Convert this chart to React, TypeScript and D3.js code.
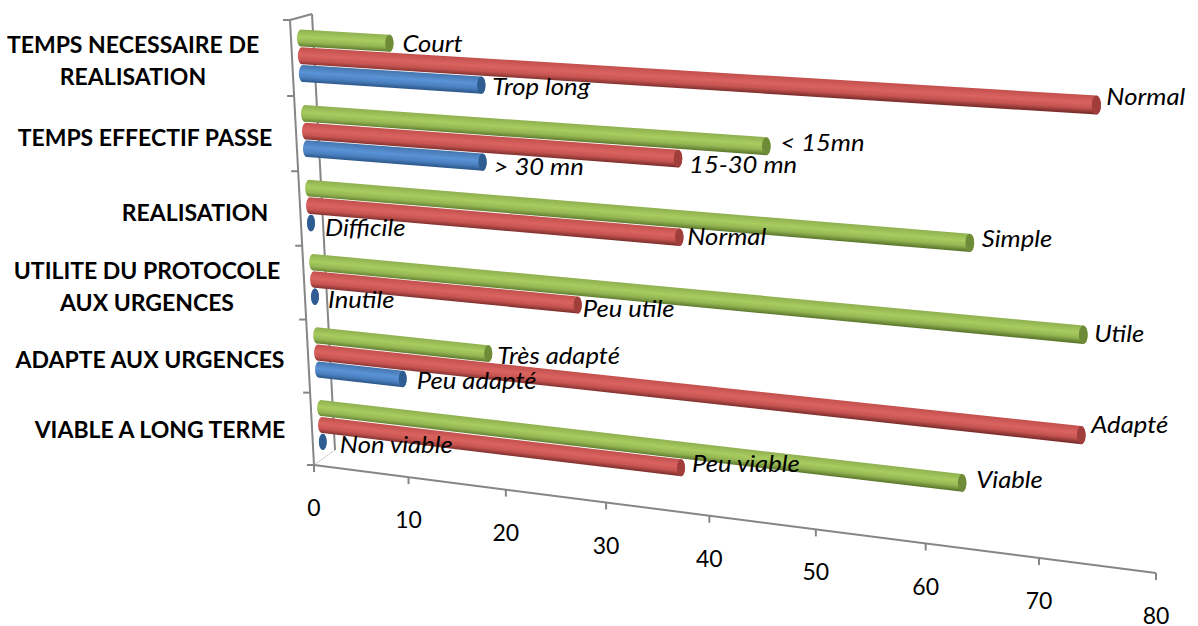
import React from 'react';
import * as d3 from 'd3';

type Pt = [number, number];

const categoryLines = [
  ['TEMPS NECESSAIRE DE', 'REALISATION'],
  ['TEMPS EFFECTIF PASSE'],
  ['REALISATION'],
  ['UTILITE DU PROTOCOLE', 'AUX URGENCES'],
  ['ADAPTE AUX URGENCES'],
  ['VIABLE A LONG TERME'],
];

const greenValues = [9.2, 45.6, 63.75, 73.5, 17.9, 62.85];
const redValues = [74.65, 37.3, 37.2, 27.1, 73.3, 36.7];
const blueValues = [18.35, 18.15, 0, 0, 8.9, 0];

const greenLabels = ['Court', '< 15mn', 'Simple', 'Utile', 'Très adapté', 'Viable'];
const redLabels = ['Normal', '15-30 mn', 'Normal', 'Peu utile', 'Adapté', 'Peu viable'];
const blueLabels = ['Trop long', '> 30 mn', 'Difficile', 'Inutile', 'Peu adapté', 'Non viable'];

const valueTicks = [0, 10, 20, 30, 40, 50, 60, 70, 80];

// layout: the plane the bars lie in, and the front plane of the axes
const barPlane: Pt[] = [[301, 38], [1161, 89], [1160, 506], [321, 408]];
const axisPlane: Pt[] = [[290, 20], [1157, 72], [1156, 573], [314, 465]];
const backWall: Pt[] = [[312, 14], [335, 450]];

const seriesStep = 0.235;
const halfBar = 0.112;

const greenNudge: Pt[] = [[13, 1], [14, -3], [12, -4], [11, -1], [9, 2], [14, -3]];
const redNudge: Pt[] = [[10, -8], [11, 6], [8, 0], [5, 4], [10, -10], [11, -4]];
const blueNudge: Pt[] = [[11, 2], [11, 5], [14, 5], [13, 3], [14, 2], [17, 3]];

const categoryCentres = [133, 145, 195, 147, 150, 160];
const categoryBaselines = [45, 138, 213, 271, 360, 430];

const series = [
  { id: 'blue', offset: 2, values: blueValues, labels: blueLabels, nudge: blueNudge, cap: '#2f5d91',
    stops: ['#4475ae', '#5a93d6', '#4a80c0', '#2b5587'] },
  { id: 'red', offset: 1, values: redValues, labels: redLabels, nudge: redNudge, cap: '#a03e3c',
    stops: ['#c2504d', '#da6360', '#c65451', '#7e2f2d'] },
  { id: 'green', offset: 0, values: greenValues, labels: greenLabels, nudge: greenNudge, cap: '#6e8c38',
    stops: ['#8fb04f', '#a8cc60', '#94b652', '#5e7a2f'] },
];

// unit square -> quad
function planeProjection([a, b, d, c]: Pt[]) {
  const sx = a[0] - b[0] + d[0] - c[0];
  const sy = a[1] - b[1] + d[1] - c[1];
  const dx1 = b[0] - d[0], dx2 = c[0] - d[0];
  const dy1 = b[1] - d[1], dy2 = c[1] - d[1];
  const den = dx1 * dy2 - dx2 * dy1;
  const g = (sx * dy2 - dx2 * sy) / den;
  const h = (dx1 * sy - sx * dy1) / den;
  return (u: number, w: number): Pt => {
    const z = 1 + g * u + h * w;
    return [
      (a[0] + (b[0] - a[0] + g * b[0]) * u + (c[0] - a[0] + h * c[0]) * w) / z,
      (a[1] + (b[1] - a[1] + g * b[1]) * u + (c[1] - a[1] + h * c[1]) * w) / z,
    ];
  };
}

const projectBar = planeProjection(barPlane);
const projectAxis = planeProjection(axisPlane);
const uScale = d3.scaleLinear().domain([0, 80]).range([0, 1]);
const wScale = d3.scaleLinear().domain([0, 5]).range([0, 1]);
const axisWScale = d3.scaleLinear().domain([0, 6]).range([0, 1]);

const GREY = '#868686';
const FONT = 'Lato, Carlito, sans-serif';

const App: React.FC = () => {
  const bars = categoryLines.flatMap((_, i) =>
    series.map(s => {
      const w = wScale(i + s.offset * seriesStep);
      const dw = wScale(halfBar);
      const u = uScale(s.values[i]);
      const st = projectBar(0, w - dw), sb = projectBar(0, w + dw);
      const et = projectBar(u, w - dw), eb = projectBar(u, w + dw);
      const end = projectBar(u, w);
      const ry = (eb[1] - et[1]) / 2;
      const rx = ry * 0.48;
      const srY = (sb[1] - st[1]) / 2;
      const srX = srY * 0.48;
      const midT = projectBar(u / 2, w - dw), midB = projectBar(u / 2, w + dw);
      // keep the shading parallel to the bar
      const angle = Math.atan2(et[1] - st[1], et[0] - st[0]);
      const thick = (midB[1] - midT[1]) * Math.cos(angle);
      const grad = {
        x1: midT[0], y1: midT[1],
        x2: midT[0] - thick * Math.sin(angle), y2: midT[1] + thick * Math.cos(angle),
      };
      const d = `M${st[0]},${st[1]}L${et[0]},${et[1]}A${rx},${ry} 0 0 1 ${eb[0]},${eb[1]}L${sb[0]},${sb[1]}A${srX},${srY} 0 0 1 ${st[0]},${st[1]}Z`;
      return { key: `${s.id}-${i}`, s, i, d, end, rx, ry, grad };
    })
  );

  const [axisX0, axisY0] = projectAxis(uScale(0), 1);
  const [axisX1, axisY1] = projectAxis(uScale(80), 1);
  const [catX0, catY0] = projectAxis(0, 0);

  return (
    <svg width={1198} height={626} style={{ position: 'absolute', left: 0, top: 0, display: 'block' }}>
      <defs>
        {bars.map(b => (
          <linearGradient key={b.key} id={`g-${b.key}`} gradientUnits="userSpaceOnUse" {...b.grad}>
            <stop offset="0" stopColor={b.s.stops[0]} />
            <stop offset="0.42" stopColor={b.s.stops[1]} />
            <stop offset="0.72" stopColor={b.s.stops[2]} />
            <stop offset="1" stopColor={b.s.stops[3]} />
          </linearGradient>
        ))}
      </defs>

      {/* side wall */}
      <g fill="none" stroke={GREY} strokeWidth={2}>
        <line x1={backWall[0][0]} y1={backWall[0][1]} x2={backWall[1][0]} y2={backWall[1][1]} />
        <line x1={catX0} y1={catY0} x2={backWall[0][0]} y2={backWall[0][1]} />
        <line x1={axisX0} y1={axisY0} x2={backWall[1][0]} y2={backWall[1][1]} stroke="#b5b5b5" strokeWidth={1} strokeDasharray="2 1" />
      </g>

      {/* category axis */}
      <g stroke={GREY} strokeWidth={2}>
        <line x1={catX0} y1={catY0} x2={axisX0} y2={axisY0} />
        {d3.range(7).map(i => {
          const [x, y] = projectAxis(0, axisWScale(i));
          return <line key={i} x1={x - 7} y1={y} x2={x} y2={y} />;
        })}
      </g>

      {/* value axis */}
      <g stroke={GREY} strokeWidth={2}>
        <line x1={axisX0} y1={axisY0} x2={axisX1} y2={axisY1} />
        {valueTicks.map(t => {
          const [x, y] = projectAxis(uScale(t), 1);
          return <line key={t} x1={x} y1={y} x2={x} y2={y + 7} />;
        })}
      </g>
      <g fontFamily={FONT} fontSize={23} fill="#000" textAnchor="middle">
        {valueTicks.map(t => {
          const [x, y] = projectAxis(uScale(t), 1);
          return <text key={t} x={x} y={y + 43} dy="0.35em">{t}</text>;
        })}
      </g>

      {/* bars */}
      {bars.map(b => (
        <g key={b.key}>
          <path d={b.d} fill={`url(#g-${b.key})`} />
          <ellipse cx={b.end[0]} cy={b.end[1]} rx={b.rx} ry={b.ry} fill={b.s.cap} />
        </g>
      ))}

      {/* data labels, stretched a little like the original */}
      <g fontFamily={FONT} fontSize={23.5} fontStyle="italic" fill="#000">
        {bars.map(b => (
          <text
            key={b.key}
            transform={`translate(${b.end[0] + b.s.nudge[b.i][0]},${b.end[1] + b.s.nudge[b.i][1]}) scale(1.09,1)`}
            dy="0.35em"
          >
            {b.s.labels[b.i]}
          </text>
        ))}
      </g>

      {/* category labels */}
      <g fontFamily={FONT} fontSize={23} fontWeight={700} fill="#000" textAnchor="middle">
        {categoryLines.map((lines, i) =>
          lines.map((line, j) => (
            <text key={line + i} x={categoryCentres[i]} y={categoryBaselines[i] + j * 32} dy="0.35em">{line}</text>
          ))
        )}
      </g>
    </svg>
  );
};

export default App;
